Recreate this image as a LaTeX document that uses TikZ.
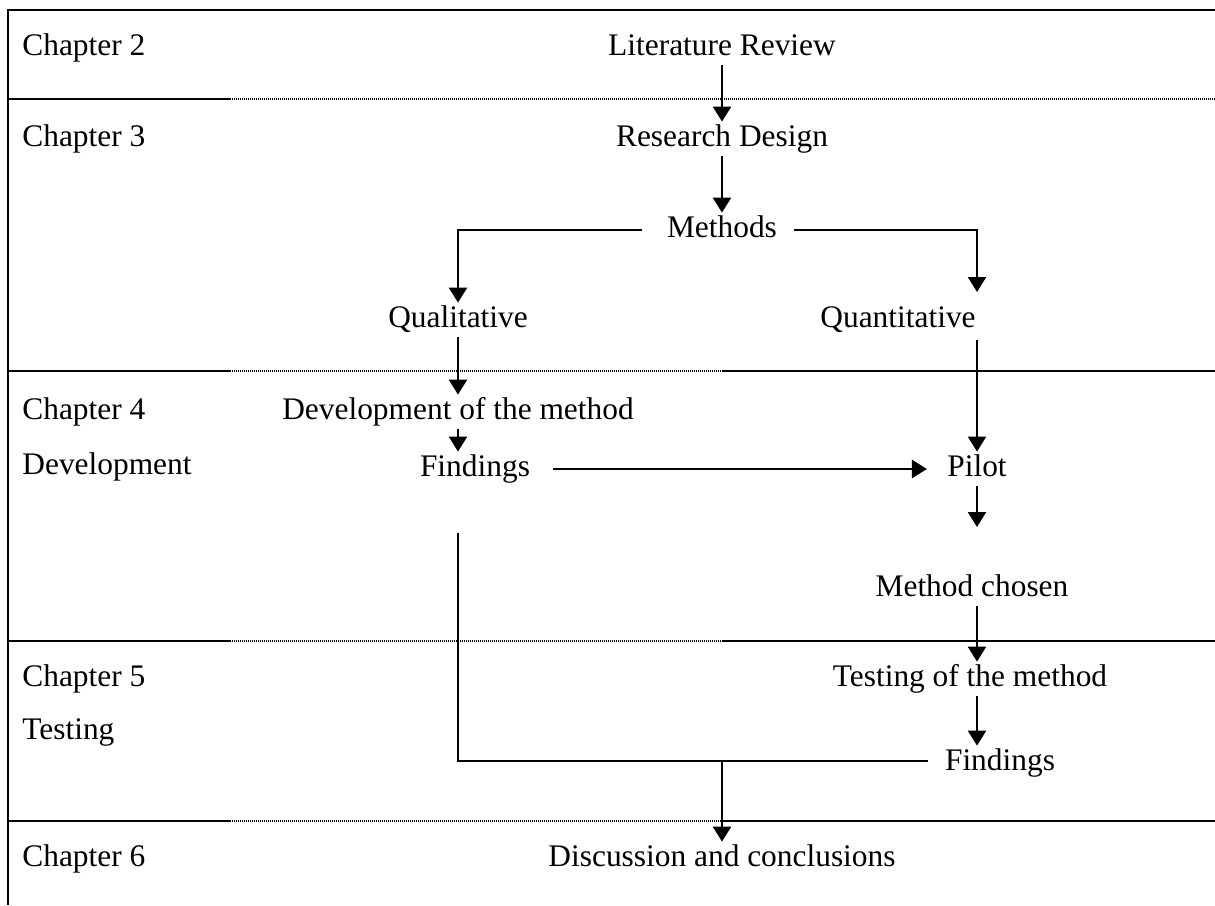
\documentclass[tikz,border=0pt]{standalone}
\usepackage{fontspec}
\setmainfont{Liberation Serif}
\usetikzlibrary{arrows.meta}
\newcommand\rsfs{\fontsize{15.7pt}{19pt}\selectfont}
\begin{document}
\begin{tikzpicture}[x=0.5pt,y=-0.5pt,
  lbl/.style={font=\rsfs, inner sep=0pt, anchor=base west},
  txt/.style={font=\rsfs, inner xsep=0pt, inner ysep=2.5pt, text height=0.95em, text depth=0.25em, anchor=base},
  arr/.style={line width=1.2pt, -{Triangle[width=9pt,length=7.5pt]}},
  thinline/.style={line width=0.6pt},
  boldline/.style={line width=1.2pt},
  solidrule/.style={line width=1.4pt},
  dotrule/.style={line width=1.2pt, dash pattern=on 0.5pt off 0.5pt},
]
\useasboundingbox (0,0) rectangle (1215,905);
% frame
\draw[solidrule] (8,905) -- (8,10) -- (1215,10);
\draw[solidrule] (8,99) -- (230,99);
\draw[dotrule] (230,99) -- (1215,99);
\foreach \yy in {371,641,821}{
  \draw[solidrule] (8,\yy) -- (230,\yy);
  \draw[dotrule] (230,\yy) -- (723,\yy);
  \draw[solidrule] (723,\yy) -- (1215,\yy);
}
% left labels
\node[lbl] (c2) at (22,55) {Chapter 2};
\node[lbl] (c3) at (22,146) {Chapter 3};
\node[lbl] (c4) at (22,419) {Chapter 4};
\node[lbl] (c4b) at (22,474) {Development};
\node[lbl] (c5) at (22,686) {Chapter 5};
\node[lbl] (c5b) at (22,739) {Testing};
\node[lbl] (c6) at (22,866) {Chapter 6};
% centre texts
\node[txt] (lit) at (722,55) {Literature Review};
\node[txt] (rd) at (722,146) {Research Design};
\node[txt] (meth) at (722,237) {Methods};
\node[txt] (qual) at (458,327) {Qualitative};
\node[txt] (quant) at (898,327) {Quantitative};
\node[txt] (dev) at (458,419) {Development of the method};
\node[txt] (find1) at (475,476) {Findings};
\node[txt] (pilot) at (977,476) {Pilot};
\node[txt] (mc) at (972,596) {Method chosen};
\node[txt] (test) at (970,686) {Testing of the method};
\node[txt] (find2) at (1000,770) {Findings};
\node[txt] (disc) at (722,866) {Discussion and conclusions};
\coordinate (qr) at (977,292);
\coordinate (qb) at (977,340);
\coordinate (pc) at (977,527);
\coordinate (join) at (722,761);
\coordinate (fl) at (458,533);
% connectors
\draw[arr] (lit) -- (rd);
\draw[arr] (rd) -- (meth);
\draw[arr,shorten <=12.5pt] (meth.west) -| (qual.north);
\draw[arr,shorten <=8.5pt] (meth.east) -| (qr);
\draw[arr] (qual) -- (dev);
\draw[arr] (dev.south) -- (dev.south |- find1.north);
\draw[arr] (qb) -- (qb |- pilot.north);
\draw[arr,shorten <=11.5pt,shorten >=10pt] (find1.east) -- (pilot.west);
\draw[arr] (pilot.south) -- (pc);
\draw[arr] (pilot.south |- mc.south) -- (pilot.south |- test.north);
\draw[arr] (pilot.south |- test.south) -- (pilot.south |- find2.north);
\draw[thinline] (fl) |- (join);
\draw[boldline,shorten >=8.5pt] (join) -- (join -| find2.west);
\draw[arr] (join) -- (join |- disc.north);
\end{tikzpicture}
\end{document}
